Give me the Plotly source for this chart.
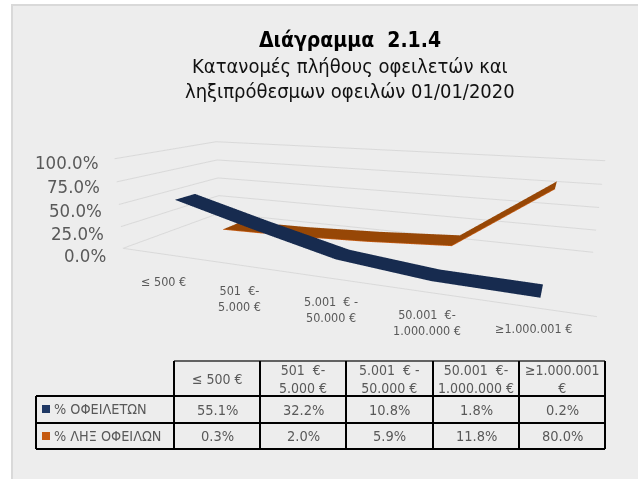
import plotly.graph_objects as go

categories = ["≤ 500 €", "501  €-<br>5.000 €", "5.001  € -<br>50.000 €", "50.001  €-<br>1.000.000 €", "≥1.000.001 €"]
table_headers = ["≤ 500 €", "501  €-<br>5.000 €", "5.001  € -<br>50.000 €", "50.001  €-<br>1.000.000 €", "≥1.000.001<br>€"]
debtors = [55.1, 32.2, 10.8, 1.8, 0.2]
overdue = [0.3, 2.0, 5.9, 11.8, 80.0]
series_names = ["% ΟΦΕΙΛΕΤΩΝ", "% ΛΗΞ ΟΦΕΙΛΩΝ"]
value_ticks = [0, 25, 50, 75, 100]

W, H = 638, 479
eye = dict(x=1.669, y=-4.581, z=1.041)
center = dict(x=-0.315, y=-0.075, z=-0.315)
aspect = dict(x=3.817, y=1.546, z=0.794)
up = dict(x=-0.0114, y=-0.005, z=1)

GREY = "#595959"
FONT = "DejaVu Sans Condensed, DejaVu Sans"
BLUE, ORANGE, ORANGE_EDGE = "#172b4f", "#974706", "#c55a11"
blue_depth = (0.13, 0.32)
orange_depth = (0.60, 0.84)

def ribbon(values, depth, colour, name):
    xs, ys, zs, i, j, k = [], [], [], [], [], []
    for n, val in enumerate(values):
        xs += [n, n]; ys += list(depth); zs += [val, val]
        if n:
            a = 2*n - 2
            i += [a, a+1]; j += [a+1, a+3]; k += [a+2, a+2]
    return go.Mesh3d(x=xs, y=ys, z=zs, i=i, j=j, k=k, color=colour, name=name, flatshading=True,
                     lighting=dict(ambient=1, diffuse=0, specular=0, fresnel=0, roughness=1), hoverinfo="skip")

edge = go.Scatter3d(x=list(range(len(overdue))), y=[orange_depth[0]] * len(overdue), z=overdue, mode="lines",
                    line=dict(color=ORANGE_EDGE, width=1.5), hoverinfo="skip", showlegend=False)
fig = go.Figure([ribbon(overdue, orange_depth, ORANGE, series_names[1]), edge, ribbon(debtors, blue_depth, BLUE, series_names[0])])

hidden = dict(showgrid=False, zeroline=False, showticklabels=False, ticks="", title="", showbackground=False, showspikes=False)
fig.update_layout(
    width=W, height=H, margin=dict(l=0, r=0, t=0, b=0), paper_bgcolor="white", showlegend=False,
    scene=dict(
        domain=dict(x=[0, 1], y=[0, 1]),
        xaxis=dict(hidden, range=[-0.59, 4.46], showline=True, linecolor="#d9d9d9", linewidth=2),
        yaxis=dict(hidden, range=[0, 1]),
        zaxis=dict(range=[0, 100], tickvals=value_ticks, showgrid=True, gridcolor="#d9d9d9", gridwidth=2, zeroline=False,
                   showticklabels=False, ticks="", title="", showbackground=False, showspikes=False),
        aspectmode="manual", aspectratio=aspect,
        camera=dict(eye=eye, center=center, up=up, projection=dict(type="perspective")),
        bgcolor="rgba(0,0,0,0)",
    ),
)

def px(x): return x / W
def py(y): return 1 - y / H
shapes, ann = [], []
def line(x0, y0, x1, y1, w=2, c="black"):
    shapes.append(dict(type="line", xref="paper", yref="paper", x0=px(x0), y0=py(y0), x1=px(x1), y1=py(y1), line=dict(color=c, width=w), layer="above"))
def text(x, y, s, size, c=GREY, anchor="center", **kw):
    ann.append(dict(xref="paper", yref="paper", x=px(x), y=py(y), text=s, showarrow=False, xanchor=anchor, yanchor="middle",
                    font=dict(family=FONT, size=size, color=c), align="center", **kw))

shapes.append(dict(type="rect", xref="paper", yref="paper", x0=px(12), y0=py(5), x1=1.01, y1=-0.01, fillcolor="#ededed", line=dict(color="#d9d9d9", width=2), layer="below"))

text(350, 40, "<b>Διάγραμμα  2.1.4</b>", 21, "black")
text(350, 66, "Κατανομές πλήθους οφειλετών και", 20, "#111111")
text(350, 91, "ληξιπρόθεσμων οφειλών 01/01/2020", 20, "#111111")

for v, xr, yc in zip(value_ticks, [108, 106, 104, 102, 100], [256, 233, 210, 186, 163]):
    text(xr, yc, f"{v:.1f}%", 18.5, anchor="right")
for c, xc, yc in zip(categories, [163, 239, 331, 427, 533], [281, 298, 309, 322, 328]):
    text(xc, yc, c, 12.5)

xs = [174, 260, 346, 433, 519, 605]
ys = [361, 396, 423, 449]
x_left = 36
line(174, 361, 605, 361, 1.5, "#333333")
for y in ys[1:]:
    line(x_left, y, 605, y, 2)
line(x_left, 396, x_left, 449, 2)
for x_ in xs:
    line(x_, 361, x_, 449, 2)
for n, h in enumerate(table_headers):
    text((xs[n] + xs[n+1]) / 2, 378.5, h, 14)
for row, (vals, yc) in enumerate(zip([debtors, overdue], [409.5, 436])):
    for n, v in enumerate(vals):
        text((xs[n] + xs[n+1]) / 2, yc, f"{v:.1f}%", 14.5)
    text(52, yc - 0.5, series_names[row], 14.3, anchor="left")
for yc, c in zip([409, 436], ["#1f3864", "#c55a11"]):
    shapes.append(dict(type="rect", xref="paper", yref="paper", x0=px(42), x1=px(50), y0=py(yc-4), y1=py(yc+4), fillcolor=c, line=dict(width=0), layer="above"))

fig.update_layout(shapes=shapes, annotations=ann)
fig.write_html("out.html", config={"displayModeBar": False},
               post_script="document.body.style.margin='0';document.documentElement.style.overflow='hidden';")
